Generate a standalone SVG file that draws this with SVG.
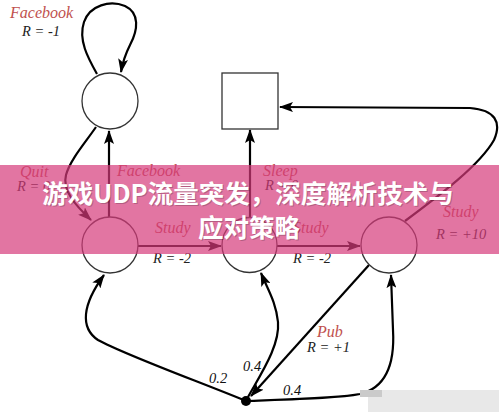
<svg xmlns="http://www.w3.org/2000/svg" width="499" height="420" viewBox="0 0 499 420">
<style>
.st{fill:#fff;stroke:#333;stroke-width:1.3}
.ed{fill:none;stroke:#000;stroke-width:2.2}
.act{font-family:"Liberation Serif",serif;font-style:italic;font-size:16px;fill:#c0504d}
.rw{font-family:"Liberation Serif",serif;font-style:italic;font-size:14.5px;fill:#222}
.pr{font-family:"Liberation Serif",serif;font-style:italic;font-size:14.5px;fill:#111}
.ti{font-family:"Noto Sans CJK SC","Noto Sans",sans-serif;font-weight:700;font-size:25.5px;text-anchor:middle}
</style>
<defs>
<marker id="ah" viewBox="0 0 14 10" refX="13" refY="5" markerWidth="14" markerHeight="10" orient="auto" markerUnits="userSpaceOnUse">
<path d="M0,0 L14,5 L0,10 L3,5 z" fill="#000"/>
</marker>
</defs>
<rect width="499" height="420" fill="#fff"/>
<g id="connectors">
<path class="ed" d="M97 74 C88 58,78 40,84 22 C90 5,110 0,125 6 C140 13,138 30,130 45 C126 53,123 60,121 72" marker-end="url(#ah)"/>
<path class="ed" d="M96 127 C85 143,70 160,66 175 C62 190,75 205,91 220" marker-end="url(#ah)"/>
<path class="ed" d="M109 217 L109 131" marker-end="url(#ah)"/>
<path class="ed" d="M138 246 L221 246" marker-end="url(#ah)"/>
<path class="ed" d="M277 246 L360 246" marker-end="url(#ah)"/>
<path class="ed" d="M250 217 L250 130" marker-end="url(#ah)"/>
<path class="ed" d="M405 221 C440 195,480 165,494 140 C502 122,495 110,470 108 L280 107" marker-end="url(#ah)"/>
<path class="ed" d="M369 265 L251 396" marker-end="url(#ah)"/>
<path class="ed" d="M246 401 C200 382,125 355,98 340 C80 328,82 305,104 275" marker-end="url(#ah)"/>
<path class="ed" d="M248 397 C262 372,280 345,278 322 C276 302,268 290,261 273" marker-end="url(#ah)"/>
<path class="ed" d="M246 401 C300 399,340 398,360 394 C385 388,395 365,393 330 L391 275" marker-end="url(#ah)"/>
</g>
<g id="facebook"><circle class="st" cx="110" cy="101" r="28"/></g>
<g id="class1"><circle class="st" cx="110" cy="245" r="28"/></g>
<g id="class2"><circle class="st" cx="249.5" cy="245" r="27.5"/></g>
<g id="class3"><circle class="st" cx="389" cy="245" r="28"/></g>
<g id="sleep"><rect class="st" x="222" y="73" width="56" height="56"/></g>
<g id="pub"><circle cx="246" cy="401" r="5" fill="#000"/></g>
<g id="labels">
<text class="act" x="10" y="18">Facebook</text>
<text class="rw" x="22" y="36">R = -1</text>
<text class="act" x="20" y="177">Quit</text>
<text class="rw" x="17" y="191">R = 0</text>
<text class="act" x="117" y="176">Facebook</text>
<text class="act" x="263" y="176">Sleep</text>
<text class="rw" x="265" y="190">R = 0</text>
<text class="act" x="155" y="233">Study</text>
<text class="rw" x="153" y="263">R = -2</text>
<text class="act" x="293" y="233">Study</text>
<text class="rw" x="293" y="263">R = -2</text>
<text class="act" x="443" y="217">Study</text>
<text class="rw" x="436" y="239">R = +10</text>
<text class="act" x="317" y="337">Pub</text>
<text class="rw" x="307" y="352">R = +1</text>
<text class="pr" x="209" y="383">0.2</text>
<text class="pr" x="243" y="371">0.4</text>
<text class="pr" x="283" y="395">0.4</text>
</g>
<rect x="368" y="390" width="131" height="22" fill="#e8e8e8"/>
<rect x="360" y="390" width="22" height="7" fill="#cacaca"/>
<g id="banner">
<rect x="0" y="165" width="499" height="89" fill="#d63a7a" opacity="0.7"/>
<text class="ti" x="248" y="203" fill="#000" opacity="0.2" transform="translate(1,1)">游戏UDP流量突发，深度解析技术与</text>
<text class="ti" x="249" y="237" fill="#000" opacity="0.2" transform="translate(1,1)">应对策略</text>
<text class="ti" x="248" y="203" fill="#fff">游戏UDP流量突发，深度解析技术与</text>
<text class="ti" x="249" y="237" fill="#fff">应对策略</text>
</g>
</svg>
